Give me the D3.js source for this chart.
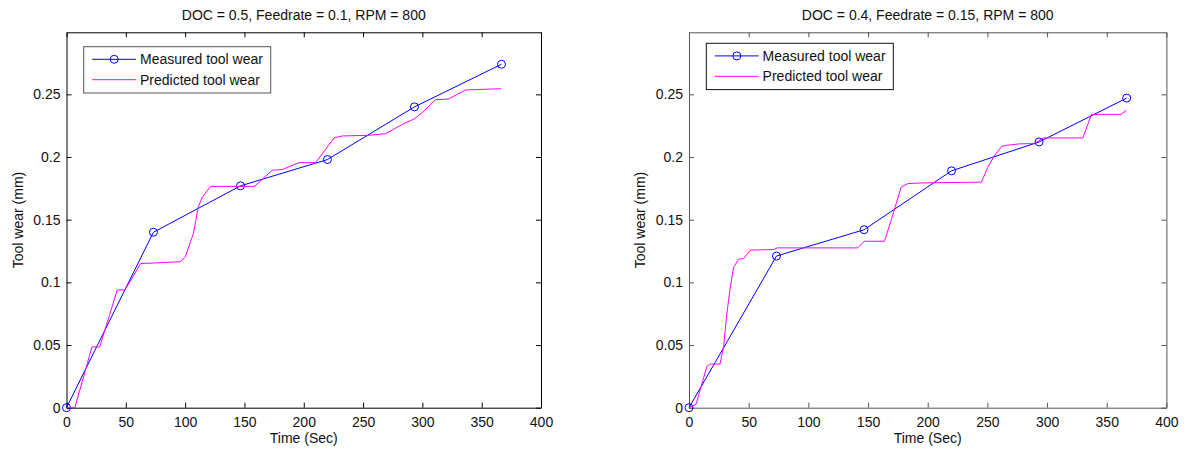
<!DOCTYPE html>
<html>
<head>
<meta charset="utf-8">
<script src="https://cdn.jsdelivr.net/npm/d3@7"></script>
<style>
  body { margin: 0; background: #fff; }
  svg text { font-family: "Liberation Sans", Arial, sans-serif; font-size: 14px; fill: #111; }
</style>
</head>
<body>
<svg id="chart" width="1190" height="450"></svg>
<script>
// measured points (same times for both runs)
const measuredTime = [0, 73.3, 146.7, 220, 293.3, 366.7];
const measuredWearA = [0, 0.140, 0.177, 0.198, 0.240, 0.274];
const measuredWearB = [0, 0.121, 0.142, 0.189, 0.212, 0.247];

// predicted curve, run A (DOC 0.5)
const predTimeA = [0, 7, 21.5, 28, 42.8, 49.3, 62.5, 75, 96, 100, 107, 111, 114.5, 121.5, 158.5,
    173.5, 182, 196, 210, 225.5, 232.5, 254, 269, 283, 293, 301.5, 311, 322, 336.5, 366.5];
const predWearA = [0, 0, 0.0485, 0.0485, 0.094, 0.094, 0.115, 0.1155, 0.1165, 0.120, 0.139, 0.160, 0.168, 0.1766, 0.1766,
    0.1895, 0.190, 0.1955, 0.1955, 0.2152, 0.2168, 0.2173, 0.2186, 0.226, 0.2303, 0.2367, 0.2457, 0.2463, 0.2535, 0.2545];

// predicted curve, run B (DOC 0.4)
const predTimeB = [0, 6, 15, 18, 26, 29, 31.7, 34.6, 37.4, 41.6, 45.8, 51.4, 71, 74, 141.3, 146.9, 163.8,
    169.4, 177.8, 183.4, 194.6, 245, 250.2, 255.5, 262, 266, 277, 289, 297, 330, 337.2, 362, 366.4];
const predWearB = [0, 0.003, 0.033, 0.0348, 0.0348, 0.049, 0.075, 0.096, 0.112, 0.1185, 0.119, 0.1257, 0.1262, 0.1275, 0.1275, 0.1328, 0.1328,
    0.1496, 0.176, 0.1788, 0.1793, 0.18, 0.1915, 0.2005, 0.2085, 0.2093, 0.2105, 0.2107, 0.2152, 0.2152, 0.234, 0.234, 0.2372];

const xTicks = [0, 50, 100, 150, 200, 250, 300, 350, 400];
const yTicks = [0, 0.05, 0.1, 0.15, 0.2, 0.25];
const legendLabels = ["Measured tool wear", "Predicted tool wear"];

const svg = d3.select("#chart");

function drawPanel(p) {
    const x = d3.scaleLinear().domain([0, 400]).range([p.left, p.right]);
    const y = d3.scaleLinear().domain([0, 0.2995]).range([p.bottom, p.top]);
    const g = svg.append("g");

    const fmt = (d) => String(+d.toFixed(2));

    const axes = [
        [d3.axisBottom(x).tickValues(xTicks).tickFormat(fmt).tickPadding(9), `translate(0,${p.bottom})`],
        [d3.axisTop(x).tickValues(xTicks).tickFormat(""), `translate(0,${p.top})`],
        [d3.axisLeft(y).tickValues(yTicks).tickFormat(fmt).tickPadding(6), `translate(${p.left},0)`],
        [d3.axisRight(y).tickValues(yTicks).tickFormat(""), `translate(${p.right},0)`],
    ];
    axes.forEach(([ax, tr]) => {
        const a = g.append("g").attr("transform", tr)
            .call(ax.tickSizeInner(-5).tickSizeOuter(0));
        a.selectAll("path, line").attr("stroke", p.axisColor).attr("stroke-width", 1);
        a.selectAll("text").attr("font-family", null).attr("font-size", null).attr("fill", "#111");
    });

    const pred = p.predTime.map((t, i) => [t, p.predWear[i]]);
    const meas = measuredTime.map((t, i) => [t, p.measWear[i]]);
    const line = d3.line().x((d) => x(d[0])).y((d) => y(d[1]));

    // measured (blue, circles)
    g.append("path").datum(meas)
        .attr("d", line)
        .attr("fill", "none")
        .attr("stroke", "#0000ff")
        .attr("stroke-width", 1);

    g.selectAll(".mk").data(meas).enter()
        .append("circle")
        .attr("cx", (d) => x(d[0]))
        .attr("cy", (d) => y(d[1]))
        .attr("r", 4)
        .attr("fill", "none")
        .attr("stroke", "#0000ff")
        .attr("stroke-width", 1);

    // predicted (magenta)
    g.append("path").datum(pred)
        .attr("d", line)
        .attr("fill", "none")
        .attr("stroke", "#ff00ff")
        .attr("stroke-width", 1);

    // title and axis labels
    const cx = (p.left + p.right) / 2;
    g.append("text").attr("x", cx).attr("y", 20).attr("text-anchor", "middle").text(p.title);
    g.append("text").attr("x", cx).attr("y", 443).attr("text-anchor", "middle").text("Time (Sec)");
    g.append("text")
        .attr("transform", `translate(${p.left - 44},${(p.top + p.bottom) / 2}) rotate(-90)`)
        .attr("text-anchor", "middle")
        .text("Tool wear (mm)");

    // legend
    const lg = g.append("g").attr("transform", `translate(${p.legX},${p.legY})`);
    lg.append("rect")
        .attr("width", 187).attr("height", 46.3)
        .attr("fill", "#fff")
        .attr("stroke", p.legendColor)
        .attr("stroke-width", 1);
    const rows = [12.6, 33];
    const colors = ["#0000ff", "#ff00ff"];
    legendLabels.forEach((lab, i) => {
        lg.append("line")
            .attr("x1", 8.5).attr("x2", 52.3)
            .attr("y1", rows[i]).attr("y2", rows[i])
            .attr("stroke", colors[i]).attr("stroke-width", 1);
        if (i === 0) {
            lg.append("circle").attr("cx", 30.5).attr("cy", rows[i]).attr("r", 4)
                .attr("fill", "none").attr("stroke", colors[i]).attr("stroke-width", 1);
        }
        lg.append("text").attr("x", 56.3).attr("y", rows[i]).attr("dy", "0.35em").text(lab);
    });
}

drawPanel({
    left: 66.5, right: 541, top: 32.3, bottom: 407.7,
    title: "DOC = 0.5, Feedrate = 0.1, RPM = 800",
    measWear: measuredWearA, predTime: predTimeA, predWear: predWearA,
    legX: 83.7, legY: 46.7, axisColor: "#000", legendColor: "#555",
});

drawPanel({
    left: 689, right: 1166.4, top: 32.3, bottom: 407.7,
    title: "DOC = 0.4, Feedrate = 0.15, RPM = 800",
    measWear: measuredWearB, predTime: predTimeB, predWear: predWearB,
    legX: 706.3, legY: 43.3, axisColor: "#555", legendColor: "#111",
});
</script>
</body>
</html>
